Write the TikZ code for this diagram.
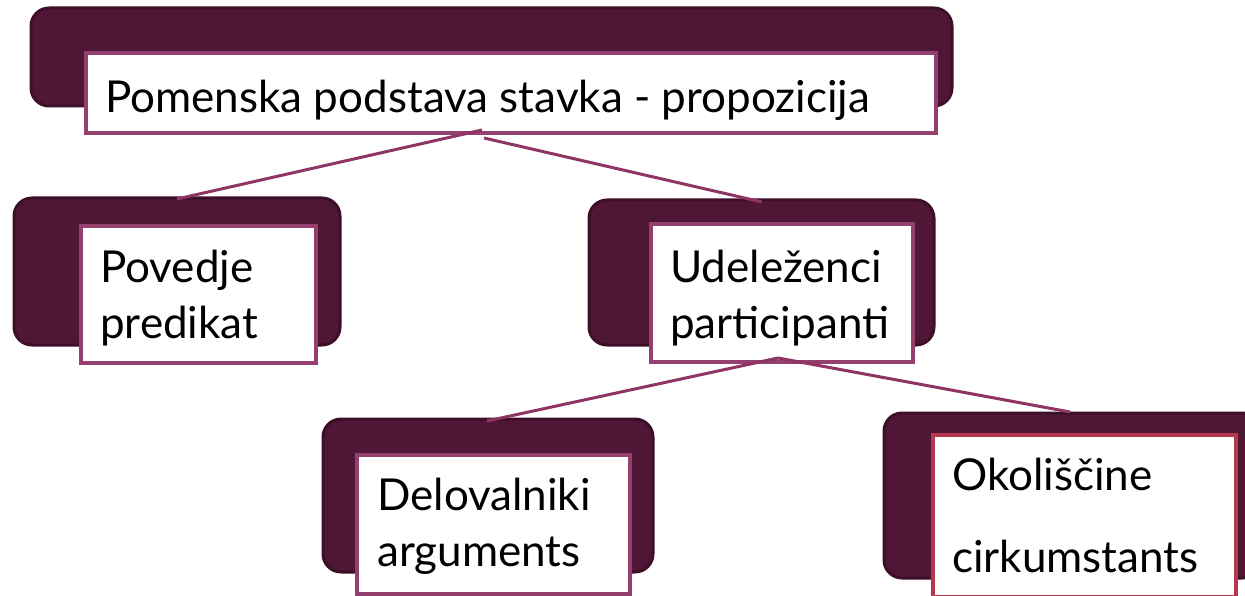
\documentclass[tikz,border=0pt]{standalone}
\usepackage{fontspec}
\setmainfont{Lato}
\definecolor{darkfill}{HTML}{4F1636}
\definecolor{darkedge}{HTML}{3D0F28}
\definecolor{boxedge}{HTML}{953F6E}
\definecolor{redge}{HTML}{B5384F}
\definecolor{linkcol}{HTML}{8E3566}
\tikzset{
  backbox/.style={draw=darkedge, fill=darkfill, line width=3pt, rounded corners=18pt},
  frontbox/.style={draw=boxedge, fill=white, line width=4pt},
  label/.style={anchor=base west, inner sep=0pt, font=\fontsize{44}{44}\selectfont, text=black},
  link/.style={draw=linkcol, line width=3pt}
}
\begin{document}
\begin{tikzpicture}[x=1pt, y=-1pt]
\useasboundingbox (0,0) rectangle (1245,596);
% top
\draw[backbox] (31,8) rectangle (952,106);
\node[frontbox, anchor=north west, minimum width=850pt, minimum height=80pt] (top) at (84,51) {};
\node[label] (toptext) at (105,113) {Pomenska podstava stavka - propozicija};
% Povedje
\draw[backbox] (14,198) rectangle (340,345);
\node[frontbox, anchor=north west, minimum width=235pt, minimum height=137pt] (pov) at (79,224) {};
\node[label] (povt1) at (100,282) {Povedje};
\node[label] (povt2) at (100,338) {predikat};
% Udelezenci
\draw[backbox] (589,200) rectangle (934,345);
\node[frontbox, anchor=north west, minimum width=262pt, minimum height=138pt] (ude) at (649,222) {};
\node[label] (udet1) at (670,282) {Udeleženci};
\node[label] (udet2) at (670,338) {participanti};
% Delovalniki
\draw[backbox] (323,419) rectangle (653,572);
\node[frontbox, anchor=north west, minimum width=273pt, minimum height=139pt] (del) at (355,453) {};
\node[label] (delt1) at (377,510) {Delovalniki};
\node[label] (delt2) at (377,566) {arguments};
% Okolisine
\draw[backbox] (884,413) rectangle (1260,578);
\node[frontbox, draw=redge, anchor=north west, minimum width=303pt, minimum height=162pt] (oko) at (931,433) {};
\node[label] (okot1) at (952,490) {Okoliščine};
\node[label] (okot2) at (952,572) {cirkumstants};
% connectors
\coordinate (a0) at (482,130);
\coordinate (a1) at (177,199);
\coordinate (b0) at (484,138);
\coordinate (b1) at (762,202);
\coordinate (c0) at (778,358);
\coordinate (c1) at (487,421);
\coordinate (d1) at (1070,412);
\draw[link] (a0) -- (a1);
\draw[link] (b0) -- (b1);
\draw[link] (c0) -- (c1);
\draw[link] (c0) -- (d1);
\end{tikzpicture}
\end{document}
